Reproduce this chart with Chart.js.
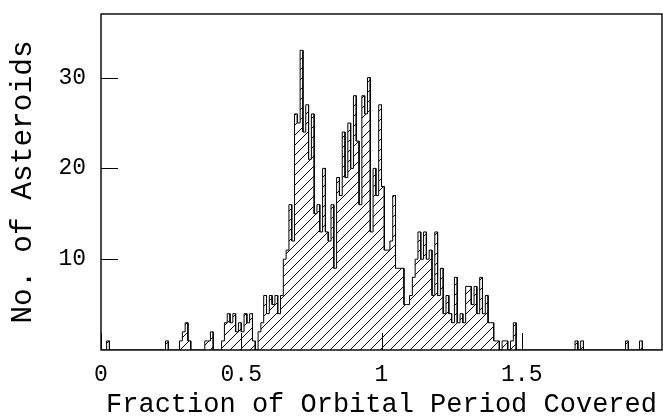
<!DOCTYPE html>
<html>
<head>
<meta charset="utf-8">
<script src="https://cdn.jsdelivr.net/npm/chart.js@4.4.1/dist/chart.umd.min.js"></script>
<style>
  html, body { margin: 0; padding: 0; background: #ffffff; }
  #wrap { width: 663px; height: 420px; }
</style>
</head>
<body>
<div id="wrap"><canvas id="c" width="663" height="420"></canvas></div>
<script>
// ---- data ----
const binWidth = 0.01;            // fraction of orbital period per bin
const binStart = 0;               // first bin left edge
const counts = [
  0,0,1,0,0,0,0,0,0,0,            // 0.00-0.09
  0,0,0,0,0,0,0,0,0,0,            // 0.10-0.19
  0,0,0,1,0,0,0,0,1,2,            // 0.20-0.29
  3,1,0,0,0,0,0,1,1,2,            // 0.30-0.39
  0,0,0,1,3,4,3,4,2,3,            // 0.40-0.49
  2,4,3,4,1,0,2,3,6,4,            // 0.50-0.59
  6,5,6,4,6,10,11,16,12,26,       // 0.60-0.69
  25,33,24,27,21,26,15,16,13,20,  // 0.70-0.79
  13,12,16,9,19,17,24,19,25,20,   // 0.80-0.89
  28,23,16,28,26,30,13,20,17,27,  // 0.90-0.99
  18,11,11,12,17,9,9,9,5,5,       // 1.00-1.09
  6,8,10,13,10,13,10,11,6,13,     // 1.10-1.19
  6,9,4,6,4,3,8,3,4,3,            // 1.20-1.29
  7,7,5,7,4,8,4,6,3,3,            // 1.30-1.39
  1,1,0,1,1,0,1,3,0,0,            // 1.40-1.49
  0,0,0,0,0,0,0,0,0,0,            // 1.50-1.59
  0,0,0,0,0,0,0,0,0,1,            // 1.60-1.69
  0,1,0,0,0,0,0,0,0,0,            // 1.70-1.79
  0,0,0,0,0,0,0,1,0,0,            // 1.80-1.89
  0,0,1,0,0,0,0,0,0,0             // 1.90-1.99
];
const xTickValues = [0, 0.5, 1, 1.5];
const xTickLabels = ['0', '0.5', '1', '1.5'];
const yTickValues = [10, 20, 30];
const yTickLabels = ['10', '20', '30'];
const xTitle = 'Fraction of Orbital Period Covered';
const yTitle = 'No. of Asteroids';
const xMin = 0, xMax = 2, yMin = 0, yMax = 37;

// ---- build step outline points (both edges of every bin) ----
const points = [];
counts.forEach((c, i) => {
  const left = binStart + i * binWidth;
  const right = left + binWidth;
  points.push({ x: left, y: c });
  points.push({ x: right, y: c });
});

// ---- hatch pattern ----
function makeHatch() {
  const s = 10;
  const pc = document.createElement('canvas');
  pc.width = s; pc.height = s;
  const g = pc.getContext('2d');
  g.strokeStyle = '#000';
  g.lineWidth = 1;
  g.beginPath();
  g.moveTo(-1, s + 1); g.lineTo(s + 1, -1);
  g.moveTo(-1, 1); g.lineTo(1, -1);
  g.moveTo(s - 1, s + 1); g.lineTo(s + 1, s - 1);
  g.stroke();
  return g.createPattern(pc, 'repeat');
}

const FONT = "'Liberation Mono', 'DejaVu Sans Mono', monospace";

const frameAndTicks = {
  id: 'frameAndTicks',
  afterDatasetsDraw(chart) {
    const { ctx, chartArea: a, scales } = chart;
    ctx.save();
    ctx.strokeStyle = '#000';
    ctx.lineWidth = 1;
    const tl = 17;
    ctx.beginPath();
    scales.y.ticks.forEach(t => {
      const py = Math.round(scales.y.getPixelForValue(t.value)) + 0.5;
      ctx.moveTo(a.left, py); ctx.lineTo(a.left + tl, py);
    });
    scales.x.ticks.forEach(t => {
      const px = Math.round(scales.x.getPixelForValue(t.value)) + 0.5;
      ctx.moveTo(px, a.bottom); ctx.lineTo(px, a.bottom - tl);
    });
    ctx.stroke();
    ctx.lineWidth = 1.4;
    ctx.strokeRect(a.left, a.top, a.right - a.left, a.bottom - a.top);
    ctx.restore();
  }
};

new Chart(document.getElementById('c'), {
  type: 'line',
  data: {
    datasets: [{
      data: points,
      borderColor: '#000',
      borderWidth: 1,
      backgroundColor: makeHatch(),
      fill: 'origin',
      pointRadius: 0,
      tension: 0
    }]
  },
  options: {
    responsive: false,
    animation: false,
    devicePixelRatio: 1,
    layout: { padding: { top: 14, right: 1, left: 0, bottom: 0 } },
    plugins: { legend: { display: false }, tooltip: { enabled: false } },
    scales: {
      x: {
        type: 'linear',
        min: xMin, max: xMax,
        afterBuildTicks: s => { s.ticks = xTickValues.map(v => ({ value: v })); },
        afterFit: s => { s.height = 70; s.paddingLeft = 0; s.paddingRight = 0; },
        grid: { display: false, drawTicks: false },
        border: { display: false },
        ticks: {
          autoSkip: false, maxRotation: 0, minRotation: 0,
          color: '#000',
          padding: 11,
          font: { family: FONT, size: 23 },
          callback: (v) => { const k = xTickValues.indexOf(v); return k >= 0 ? xTickLabels[k] : ''; }
        },
        title: {
          display: true, text: xTitle, color: '#000',
          font: { family: FONT, size: 27, lineHeight: 1 },
          padding: { top: 0, bottom: 2 }
        }
      },
      y: {
        type: 'linear',
        min: yMin, max: yMax,
        afterBuildTicks: s => { s.ticks = yTickValues.map(v => ({ value: v })); },
        afterFit: s => { s.width = 101; s.paddingTop = 0; s.paddingBottom = 0; },
        grid: { display: false, drawTicks: false },
        border: { display: false },
        ticks: {
          autoSkip: false,
          color: '#000',
          padding: 15,
          font: { family: FONT, size: 23 },
          callback: (v) => { const k = yTickValues.indexOf(v); return k >= 0 ? yTickLabels[k] : ''; }
        },
        title: {
          display: true, text: yTitle, color: '#000',
          font: { family: FONT, size: 29.5, lineHeight: 1 },
          padding: { top: 8, bottom: 0 }
        }
      }
    }
  },
  plugins: [frameAndTicks]
});
</script>
</body>
</html>
